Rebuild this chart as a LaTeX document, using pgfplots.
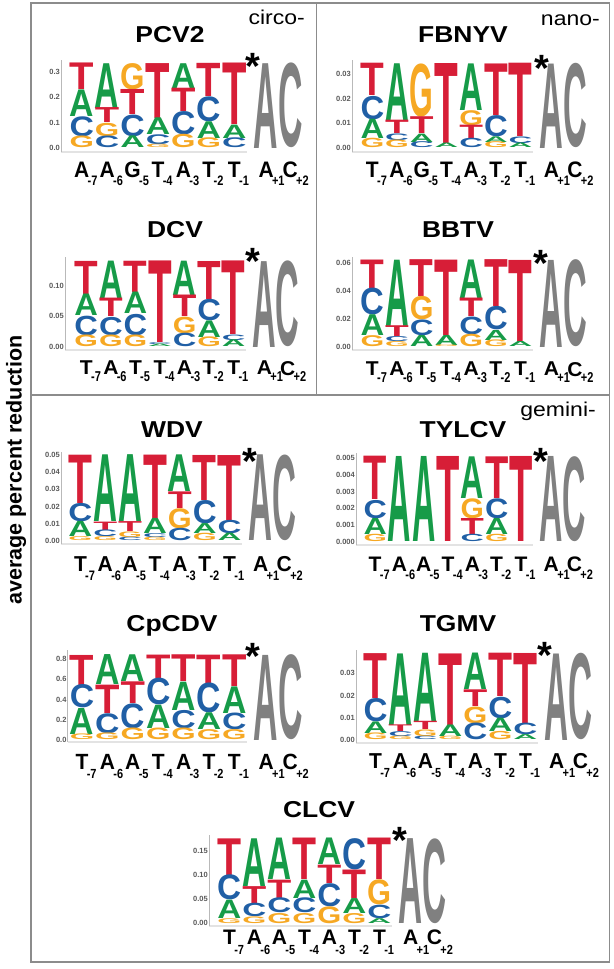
\documentclass[border=0pt]{standalone}
\usepackage{pgfplots}
\pgfplotsset{compat=1.18}
\usepackage{pgfplotstable}
\usepackage{graphicx}
\usepackage{fontspec}
\setmainfont{Liberation Sans}

\definecolor{lcT}{RGB}{215,30,55}
\definecolor{lcA}{RGB}{22,155,72}
\definecolor{lcC}{RGB}{32,95,165}
\definecolor{lcG}{RGB}{246,168,35}
\definecolor{lcX}{RGB}{128,128,128}
\colorlet{lcY}{lcX}
\definecolor{framegray}{RGB}{140,140,140}

% letter shown for each meta symbol (X, Y = the grey A and C)
\def\lgA{A}\def\lgC{C}\def\lgG{G}\def\lgT{T}\def\lgX{A}\def\lgY{C}

% one stretched letter; \hpt = its height in bp, \cw = its width in bp
\newcommand\logoletter[1]{%
  \ifdim\hpt bp<0.3bp\relax\else
    \edef\ltr{#1}%
    \resizebox*{\cw bp}{\hpt bp}{\color{lc\ltr}\bfseries\csname lg\ltr\endcsname}%
  \fi}

\pgfplotsset{
  logoaxis/.style={
    scale only axis, clip=false, anchor=south west,
    stack plots=y,
    axis x line*=bottom, axis y line*=left,
    x axis line style={draw=gray!22, line width=1.3bp},
    y axis line style={draw=gray!55, line width=0.8bp},
    xtick=\empty, major tick length=0pt, scaled y ticks=false,
    yticklabel style={font=\fontsize{7.5bp}{8bp}\selectfont\bfseries, text=black!65,
      inner sep=1bp, /pgf/number format/fixed, /pgf/number format/fixed zerofill,
      /pgf/number format/assume math mode=true},
  },
  logo/.style={draw=none, mark=none, point meta=explicit symbolic,
    nodes near coords={\logoletter{\pgfplotspointmeta}},
    nodes near coords style={anchor=north, inner sep=0pt, outer sep=0pt}},
}
\newcommand\logolayer[2]{%
  \addplot[logo, visualization depends on={\thisrow{h#2}*\ky \as \hpt}]
    table[x=p, y=h#2, meta=L#2] {#1};}
\newcommand\logostack[1]{\logolayer{#1}{1}\logolayer{#1}{2}\logolayer{#1}{3}\logolayer{#1}{4}}

% position labels under a logo: #1 left of column 1, #2 column width, #3 letter top,
% #4 letter y-scale, #5 subscript top, #6 subscript y-scale, #7 the nine letters
\newcommand\seqlab[7]{%
  \foreach \ll [count=\i] in {#7} {
    \pgfmathsetmacro\q{\i<8 ? \i-0.5 : (\i==8 ? 7.75 : 8.7)}
    \edef\s{\ifcase\i\or-7\or-6\or-5\or-4\or-3\or-2\or-1\or+1\or+2\fi}
    \node[anchor=north, inner sep=0pt] (L) at ({#1+\q*#2},#3)
      {\scalebox{1.05}[#4]{\fontsize{20bp}{20bp}\selectfont\bfseries\ll}};
    \node[anchor=north west, inner sep=0pt, yshift={(#3-#5)*1bp}] at ([xshift=-2bp]L.north east)
      {\scalebox{1.0}[#6]{\fontsize{11bp}{11bp}\selectfont\bfseries\s}};
  }}
\newcommand\ttl[3]{\node[anchor=base, inner sep=0pt] at (#1,#2)
  {\scalebox{1.15}[1]{\fontsize{23bp}{23bp}\selectfont\bfseries #3}};}
\newcommand\astk[2]{\node[anchor=north, inner sep=0pt] at (#1,#2)
  {\fontsize{38bp}{38bp}\selectfont\bfseries *};}

% heights of the stacked letters, bottom (1) to top (4)
\pgfplotstableread{
p L1 h1 L2 h2 L3 h3 L4 h4
1 G 0.046 C 0.079 A 0.105 T 0.105
2 C 0.046 G 0.053 T 0.059 A 0.177
3 A 0.046 C 0.086 T 0.099 G 0.104
4 G 0.013 C 0.039 A 0.066 T 0.217
5 G 0.053 C 0.092 T 0.092 A 0.098
6 G 0.039 A 0.066 C 0.099 T 0.131
7 C 0.039 A 0.053 T 0.243 n 0
8.25 X 0.335 n 0 n 0 n 0
9.2 Y 0.335 n 0 n 0 n 0
}\tPCV
\pgfplotstableread{
p L1 h1 L2 h2 L3 h3 L4 h4
1 G 0.0038 A 0.0078 C 0.0095 T 0.0131
2 G 0.0031 C 0.0027 T 0.0054 A 0.0230
3 C 0.0024 A 0.0034 T 0.0068 G 0.0216
4 A 0.0018 T 0.0324 n 0 n 0
5 C 0.0038 T 0.0054 G 0.0061 A 0.0189
6 G 0.0024 A 0.0023 C 0.0086 T 0.0209
7 A 0.0018 C 0.0027 T 0.0297 n 0
8.25 X 0.0342 n 0 n 0 n 0
9.2 Y 0.0342 n 0 n 0 n 0
}\tFBN
\pgfplotstableread{
p L1 h1 L2 h2 L3 h3 L4 h4
1 G 0.019 C 0.032 A 0.035 T 0.054
2 G 0.019 C 0.030 T 0.030 A 0.061
3 G 0.019 C 0.035 A 0.035 T 0.051
4 A 0.004 C 0.003 T 0.133 n 0
5 C 0.022 G 0.027 T 0.035 A 0.056
6 G 0.016 A 0.027 C 0.035 T 0.062
7 A 0.011 C 0.009 T 0.120 n 0
8.25 X 0.140 n 0 n 0 n 0
9.2 Y 0.140 n 0 n 0 n 0
}\tDCV
\pgfplotstableread{
p L1 h1 L2 h2 L3 h3 L4 h4
1 G 0.0079 A 0.0149 C 0.0192 T 0.0204
2 G 0.0036 C 0.0036 T 0.0077 A 0.0475
3 A 0.0079 C 0.0113 G 0.0168 T 0.0264
4 G 0.0012 A 0.0072 T 0.0540 n 0
5 G 0.0089 C 0.0127 T 0.0132 A 0.0276
6 G 0.0048 A 0.0072 C 0.0168 T 0.0336
7 A 0.0036 T 0.0588 n 0 n 0
8.25 X 0.0624 n 0 n 0 n 0
9.2 Y 0.0624 n 0 n 0 n 0
}\tBBT
\pgfplotstableread{
p L1 h1 L2 h2 L3 h3 L4 h4
1 G 0.0023 A 0.0088 C 0.0107 T 0.0282
2 G 0.0023 C 0.0039 T 0.0049 A 0.0389
3 C 0.0019 G 0.0033 T 0.0058 A 0.0390
4 G 0.0019 C 0.0023 A 0.0088 T 0.0370
5 C 0.0072 G 0.0117 T 0.0097 A 0.0214
6 G 0.0043 A 0.0058 C 0.0136 T 0.0263
7 A 0.0043 C 0.0078 T 0.0379 n 0
8.25 X 0.050 n 0 n 0 n 0
9.2 Y 0.050 n 0 n 0 n 0
}\tWDV
\pgfplotstableread{
p L1 h1 L2 h2 L3 h3 L4 h4
1 G 0.00044 A 0.00096 C 0.0011 T 0.0026
2 A 0.0051 n 0 n 0 n 0
3 A 0.0051 n 0 n 0 n 0
4 T 0.0051 n 0 n 0 n 0
5 C 0.00044 T 0.00096 G 0.0012 A 0.0025
6 G 0.00044 A 0.00096 C 0.0012 T 0.0025
7 T 0.0051 n 0 n 0 n 0
8.25 X 0.0051 n 0 n 0 n 0
9.2 Y 0.0051 n 0 n 0 n 0
}\tTYL
\pgfplotstableread{
p L1 h1 L2 h2 L3 h3 L4 h4
1 G 0.056 A 0.257 C 0.230 T 0.297
2 G 0.066 C 0.198 T 0.280 A 0.296
3 G 0.115 C 0.247 T 0.214 A 0.264
4 G 0.115 A 0.230 C 0.264 T 0.231
5 G 0.115 C 0.181 A 0.280 T 0.264
6 G 0.099 A 0.165 C 0.296 T 0.280
7 G 0.099 C 0.165 A 0.263 T 0.313
8.25 X 0.840 n 0 n 0 n 0
9.2 Y 0.840 n 0 n 0 n 0
}\tCpC
\pgfplotstableread{
p L1 h1 L2 h2 L3 h3 L4 h4
1 G 0.0030 A 0.0052 C 0.0105 T 0.0202
2 G 0.0015 C 0.0022 T 0.0030 A 0.0322
3 C 0.0015 G 0.0030 T 0.0037 A 0.0307
4 G 0.0015 A 0.0052 T 0.0322 n 0
5 C 0.0075 G 0.0075 T 0.0075 A 0.0164
6 G 0.0037 A 0.0060 C 0.0097 T 0.0195
7 A 0.0022 C 0.0052 T 0.0315 n 0
8.25 X 0.0389 n 0 n 0 n 0
9.2 Y 0.0389 n 0 n 0 n 0
}\tTGM
\pgfplotstableread{
p L1 h1 L2 h2 L3 h3 L4 h4
1 G 0.010 A 0.038 C 0.052 T 0.076
2 G 0.014 C 0.028 T 0.035 A 0.099
3 G 0.021 C 0.031 T 0.038 A 0.086
4 G 0.021 C 0.031 A 0.038 T 0.086
5 G 0.035 C 0.048 T 0.038 A 0.055
6 G 0.021 A 0.031 T 0.059 C 0.065
7 A 0.010 C 0.028 G 0.052 T 0.086
8.25 X 0.176 n 0 n 0 n 0
9.2 Y 0.176 n 0 n 0 n 0
}\tCLC

\begin{document}
\begin{tikzpicture}
\path[use as bounding box] (0,0) rectangle (614bp,969bp);

% ---- circo-
\def\ky{253}\def\cw{24.4}
\begin{axis}[logoaxis, at={(61bp,817bp)}, width=186bp, height=92bp,
  xmin=0.185, xmax=7.5, ymin=-0.0158, ymax=0.3478,
  ytick={0,0.1,0.2,0.3}, yticklabel style={/pgf/number format/precision=1}]
\logostack{\tPCV}
\end{axis}
\def\ky{613}\def\cw{23.6}
\begin{axis}[logoaxis, at={(65bp,619bp)}, width=181bp, height=93bp,
  xmin=0.134, xmax=7.5, ymin=-0.0049, ymax=0.1468,
  ytick={0,0.05,0.10}, yticklabel style={/pgf/number format/precision=2}]
\logostack{\tDCV}
\end{axis}

% ---- nano-
\def\ky{2467}\def\cw{23.7}
\begin{axis}[logoaxis, at={(352bp,817bp)}, width=180.9bp, height=92.1bp,
  xmin=0.176, xmax=7.5, ymin=-0.00162, ymax=0.0357,
  ytick={0,0.01,0.02,0.03}, yticklabel style={/pgf/number format/precision=2}]
\logostack{\tFBN}
\end{axis}
\def\ky{1395}\def\cw{23.7}
\begin{axis}[logoaxis, at={(352bp,619bp)}, width=180.9bp, height=93bp,
  xmin=0.176, xmax=7.5, ymin=-0.00215, ymax=0.0645,
  ytick={0,0.02,0.04,0.06}, yticklabel style={/pgf/number format/precision=2}]
\logostack{\tBBT}
\end{axis}

% ---- gemini-
\def\ky{1713}\def\cw{23.9}
\begin{axis}[logoaxis, at={(61bp,425bp)}, width=181bp, height=92bp,
  xmin=0.218, xmax=7.5, ymin=-0.0019, ymax=0.0518,
  ytick={0,0.01,0.02,0.03,0.04,0.05}, yticklabel style={/pgf/number format/precision=2}]
\logostack{\tWDV}
\end{axis}
\def\ky{16667}\def\cw{23.3}
\begin{axis}[logoaxis, at={(356bp,424bp)}, width=177.1bp, height=92bp,
  xmin=0.212, xmax=7.5, ymin=-0.0002, ymax=0.00532,
  ytick={0,0.001,0.002,0.003,0.004,0.005}, yticklabel style={/pgf/number format/precision=3}]
\logostack{\tTYL}
\end{axis}
\def\ky{101.25}\def\cw{24.4}
\begin{axis}[logoaxis, at={(67.7bp,227bp)}, width=179.4bp, height=92bp,
  xmin=0.437, xmax=7.5, ymin=-0.0198, ymax=0.889,
  ytick={0,0.2,0.4,0.6,0.8}, yticklabel style={/pgf/number format/precision=1}]
\logostack{\tCpC}
\end{axis}
\def\ky{2222}\def\cw{24}
\begin{axis}[logoaxis, at={(356bp,226bp)}, width=182bp, height=93bp,
  xmin=0.22, xmax=7.5, ymin=-0.00135, ymax=0.0405,
  ytick={0,0.01,0.02,0.03}, yticklabel style={/pgf/number format/precision=2}]
\logostack{\tTGM}
\end{axis}
\def\ky{482}\def\cw{24}
\begin{axis}[logoaxis, at={(209bp,43bp)}, width=183bp, height=90.9bp,
  xmin=0.18, xmax=7.5, ymin=-0.0056, ymax=0.183,
  ytick={0,0.05,0.10,0.15}, yticklabel style={/pgf/number format/precision=2}]
\logostack{\tCLC}
\end{axis}

% ---- frames, titles and labels, in picture pixels measured from the top
\begin{scope}[shift={(0bp,969bp)}, x=1bp, y=-1bp]
\draw[framegray, line width=1.6bp] (31,3) rectangle (609.5,962);
\draw[framegray, line width=1.6bp] (31,395) -- (609.5,395) (316.5,3) -- (316.5,395);

\node[rotate=90, inner sep=0pt] at (16,470)
  {\fontsize{21.5bp}{21.5bp}\selectfont\bfseries average percent reduction};

\node[anchor=base east, inner sep=0pt] at (305,25)
  {\scalebox{1.15}[1]{\fontsize{20bp}{20bp}\selectfont circo-}};
\node[anchor=base east, inner sep=0pt] at (600,26)
  {\scalebox{1.15}[1]{\fontsize{20bp}{20bp}\selectfont nano-}};
\node[anchor=base east, inner sep=0pt] at (596,417)
  {\scalebox{1.15}[1]{\fontsize{20bp}{20bp}\selectfont gemini-}};

\ttl{170}{43}{PCV2}
\ttl{463}{43}{FBNYV}
\ttl{175}{238}{DCV}
\ttl{458}{238}{BBTV}
\ttl{172}{438}{WDV}
\ttl{463}{438}{TYLCV}
\ttl{172}{632}{CpCDV}
\ttl{458}{632}{TGMV}
\ttl{319}{818}{CLCV}

\astk{253}{53}
\astk{542}{55}
\astk{253}{248}
\astk{541}{250}
\astk{250}{448}
\astk{541}{448}
\astk{253}{643}
\astk{545}{642}
\astk{400}{827}

\seqlab{69}{25.43}{162}{1.12}{176}{1.25}{A,A,G,T,A,T,T,A,C}
\seqlab{360}{24.7}{162}{1.12}{176}{1.25}{T,A,G,T,A,T,T,A,C}
\seqlab{74}{24.57}{361}{1.0}{371}{1.3}{T,A,T,T,A,T,T,A,C}
\seqlab{360}{24.7}{362}{1.0}{372}{1.3}{T,A,T,T,A,T,T,A,C}
\seqlab{68}{24.86}{556}{1.08}{571}{1.25}{T,A,A,T,A,T,T,A,C}
\seqlab{363}{24.3}{557}{1.05}{570}{1.25}{T,A,A,T,A,T,T,A,C}
\seqlab{69.3}{25.4}{754}{1.1}{769}{1.2}{T,A,A,T,A,T,T,A,C}
\seqlab{363}{25}{753}{1.08}{768}{1.2}{T,A,A,T,A,T,T,A,C}
\seqlab{217}{25}{930}{1.05}{945}{1.2}{T,A,A,T,A,T,T,A,C}
\end{scope}
\end{tikzpicture}
\end{document}
